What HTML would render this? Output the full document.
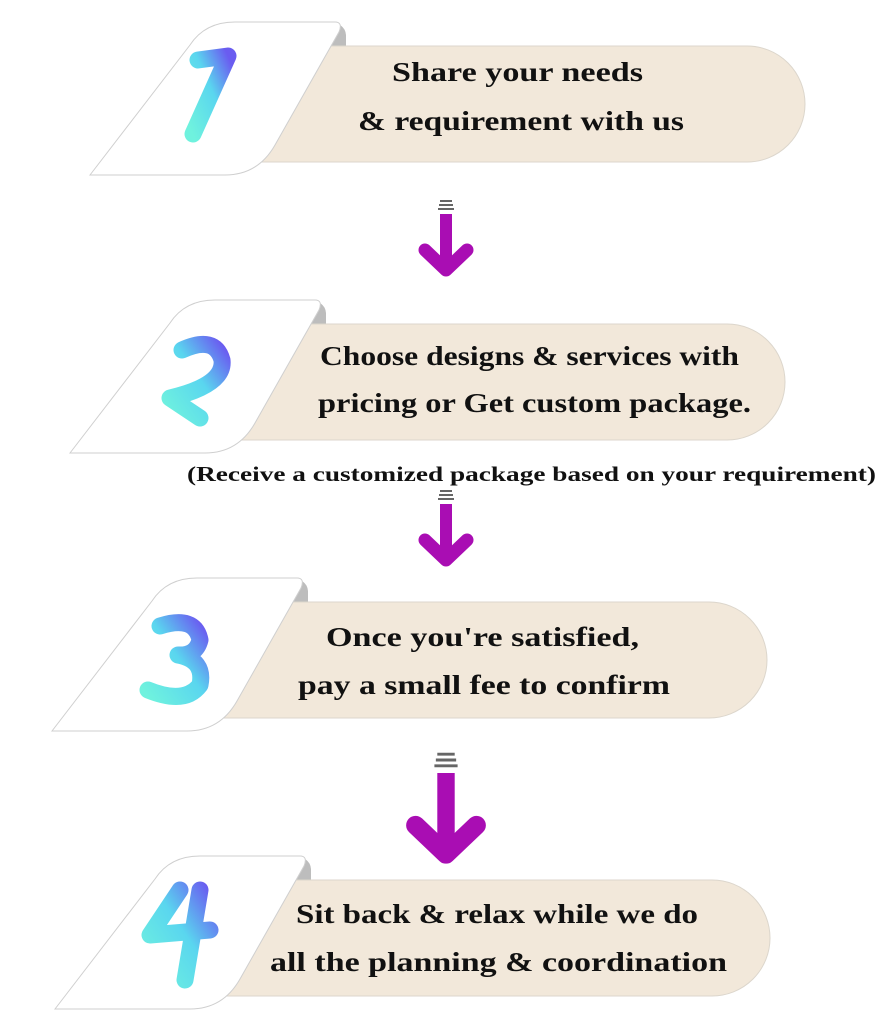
<!DOCTYPE html>
<html><head><style>
html,body{margin:0;padding:0;background:#fff}
svg{display:block}
text{font-family:"Liberation Serif",serif;fill:#111;font-weight:bold}
</style></head><body>
<svg width="886" height="1024" viewBox="0 0 886 1024">
<defs>
<linearGradient id="g" x1="0" y1="1" x2="1" y2="0">
<stop offset="0" stop-color="#6ff2de"/><stop offset="0.55" stop-color="#5ad6ef"/><stop offset="1" stop-color="#6a5cf0"/>
</linearGradient>
<g id="card">
<path d="M318,46 L325,22 Q345,22 346,35 L346,46 Z" fill="#bdbdbd"/>
<path d="M250,46 L747,46 A58,58 0 0 1 747,162 L250,162 Z" fill="#f2e8da" stroke="#dcd6cc" stroke-width="1"/>
<path d="M90,175 L190,45 Q205,22 235,22 L335,22 Q343,22 339,32 L275,145 Q258,175 225,175 Z" fill="#fff" stroke="#cfcfcf" stroke-width="1"/>
</g>
<g id="arrow" fill="none">
<g stroke="#666" stroke-width="2">
<line x1="440" y1="201" x2="452" y2="201"/><line x1="439" y1="205" x2="453" y2="205"/><line x1="438" y1="209" x2="454" y2="209"/>
</g>
<line x1="446" y1="214" x2="446" y2="266" stroke="#a90db3" stroke-width="12"/>
<polyline points="425,250 446,270 467,250" stroke="#a90db3" stroke-width="13" stroke-linecap="round" stroke-linejoin="round"/>
</g>
</defs>

<use href="#card"/>
<use href="#card" transform="translate(-20,278)"/>
<use href="#card" transform="translate(-38,556)"/>
<use href="#card" transform="translate(-35,834)"/>

<g fill="none" stroke="url(#g)" stroke-width="17" stroke-linecap="round" stroke-linejoin="round">
<path d="M198,60 L228,56 L193,134"/>
<path d="M182,350 Q215,335 222,360 Q225,385 170,398 L200,418"/>
<path d="M160,626 Q195,615 200,640 Q196,656 178,655 Q205,660 200,685 Q185,705 148,690"/>
<path d="M180,890 L150,935 L210,930 M200,890 L185,980"/>
</g>

<use href="#arrow"/>
<use href="#arrow" transform="translate(0,290)"/>
<g transform="translate(446,760) scale(1.45) translate(-446,-205)"><use href="#arrow"/></g>

<g font-size="27" lengthAdjust="spacingAndGlyphs">
<text x="392" y="81" textLength="251" lengthAdjust="spacingAndGlyphs">Share your needs</text>
<text x="358" y="130" textLength="326" lengthAdjust="spacingAndGlyphs">&amp; requirement with us</text>
<text x="320" y="365" textLength="419" lengthAdjust="spacingAndGlyphs">Choose designs &amp; services with</text>
<text x="318" y="412" textLength="433" lengthAdjust="spacingAndGlyphs">pricing  or Get custom package.</text>
<text x="326" y="646" textLength="313" lengthAdjust="spacingAndGlyphs">Once you're satisfied,</text>
<text x="298" y="694" textLength="372" lengthAdjust="spacingAndGlyphs">pay a small fee to confirm</text>
<text x="296" y="923" textLength="402" lengthAdjust="spacingAndGlyphs">Sit back &amp; relax while we do</text>
<text x="270" y="971" textLength="457" lengthAdjust="spacingAndGlyphs">all the planning &amp; coordination</text>
</g>
<text x="187" y="481" font-size="21" textLength="689" lengthAdjust="spacingAndGlyphs">(Receive a customized package based on your requirement)</text>
</svg>
</body></html>
